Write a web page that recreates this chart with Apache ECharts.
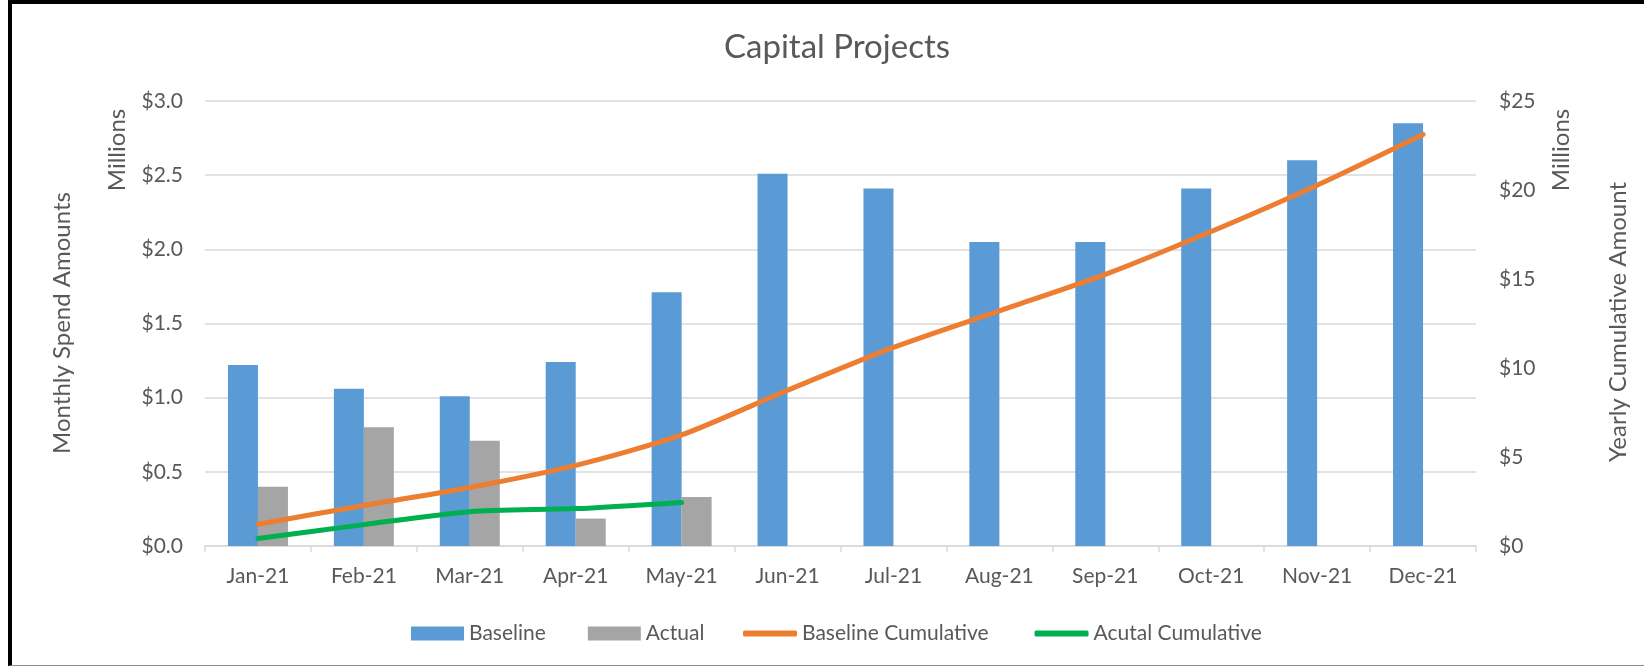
<!DOCTYPE html>
<html>
<head>
<meta charset="utf-8">
<title>Capital Projects</title>
<script src="https://cdn.jsdelivr.net/npm/echarts@6/dist/echarts.min.js"></script>
<style>
  html, body { margin: 0; padding: 0; background: #fff; }
  #wrap { position: relative; width: 1644px; height: 667px; }
  #chart { position: absolute; left: 0; top: 0; width: 1644px; height: 667px; }
  #frame {
    position: absolute; left: 8px; top: 0; width: 1636px; height: 666px;
    box-sizing: border-box;
    border-top: 4px solid #000; border-left: 4px solid #000; border-bottom: 1px solid #8c8c8c;
    pointer-events: none;
  }
</style>
</head>
<body>
<div id="wrap">
  <div id="chart"></div>
  <div id="frame"></div>
</div>
<script>
// months on the x axis
const months = ['Jan-21', 'Feb-21', 'Mar-21', 'Apr-21', 'May-21', 'Jun-21',
  'Jul-21', 'Aug-21', 'Sep-21', 'Oct-21', 'Nov-21', 'Dec-21']

// monthly spend, millions (left axis)
const baseline = [1.22, 1.06, 1.01, 1.24, 1.71, 2.51, 2.41, 2.05, 2.05, 2.41, 2.60, 2.85]
const actual = [0.40, 0.80, 0.71, 0.185, 0.33, null, null, null, null, null, null, null]

// yearly cumulative, millions (right axis)
const baselineCum = [1.22, 2.28, 3.29, 4.53, 6.24, 8.75, 11.16, 13.21, 15.26, 17.67, 20.27, 23.12]
const actualCum = [0.42, 1.20, 1.93, 2.10, 2.45, null, null, null, null, null, null, null]

const leftTicks = { min: 0, max: 3, interval: 0.5 }
const rightTicks = { min: 0, max: 25, interval: 5 }

const FONT = 'Lato, "Open Sans", sans-serif'
const TEXT = '#595959'
const GRID = '#d9d9d9'

const chart = echarts.init(document.getElementById('chart'))

const legendText = { fontSize: 21, color: TEXT, fontFamily: FONT }

chart.setOption({
  animation: false,
  textStyle: { fontFamily: FONT, color: TEXT },
  graphic: [
    { type: 'text', x: 837, y: 47,
      style: { text: 'Capital Projects', font: '33px ' + FONT, fill: TEXT, align: 'center', verticalAlign: 'middle' } },
    { type: 'text', x: 117, y: 150, rotation: Math.PI / 2,
      style: { text: 'Millions', font: '24px ' + FONT, fill: TEXT, align: 'center', verticalAlign: 'middle' } },
    { type: 'text', x: 62, y: 323, rotation: Math.PI / 2,
      style: { text: 'Monthly Spend Amounts', font: '24px ' + FONT, fill: TEXT, align: 'center', verticalAlign: 'middle' } },
    { type: 'text', x: 1561, y: 150, rotation: Math.PI / 2,
      style: { text: 'Millions', font: '24px ' + FONT, fill: TEXT, align: 'center', verticalAlign: 'middle' } },
    { type: 'text', x: 1618, y: 322, rotation: Math.PI / 2,
      style: { text: 'Yearly Cumulative Amount', font: '24px ' + FONT, fill: TEXT, align: 'center', verticalAlign: 'middle' } }
  ],
  legend: [{
    // bar entries
    left: 406,
    top: 618,
    itemWidth: 53,
    itemHeight: 14,
    itemGap: 42,
    icon: 'rect',
    textStyle: legendText,
    data: ['Baseline', 'Actual']
  }, {
    // line entries
    left: 738,
    top: 618,
    itemWidth: 54,
    itemHeight: 6,
    itemGap: 46,
    icon: 'roundRect',
    textStyle: legendText,
    data: ['Baseline Cumulative', 'Acutal Cumulative']
  }],
  grid: { left: 205, right: 168, top: 101, bottom: 121 },
  xAxis: {
    type: 'category',
    data: months,
    axisLine: { lineStyle: { color: GRID, width: 1.5 } },
    axisTick: { show: true, length: 6, lineStyle: { color: GRID, width: 1.5 } },
    axisLabel: { fontSize: 21, color: TEXT, margin: 20 }
  },
  yAxis: [{
    type: 'value',
    min: leftTicks.min,
    max: leftTicks.max,
    interval: leftTicks.interval,
    axisLine: { show: false },
    axisTick: { show: false },
    splitLine: { lineStyle: { color: GRID, width: 1.5 } },
    axisLabel: { fontSize: 21, color: TEXT, margin: 22, formatter: v => '$' + v.toFixed(1) }
  }, {
    type: 'value',
    min: rightTicks.min,
    max: rightTicks.max,
    interval: rightTicks.interval,
    axisLine: { show: false },
    axisTick: { show: false },
    splitLine: { show: false },
    axisLabel: { fontSize: 21, color: TEXT, margin: 23, formatter: v => '$' + v }
  }],
  series: [{
    name: 'Baseline',
    type: 'bar',
    barWidth: 30,
    barGap: '0%',
    itemStyle: { color: '#5b9bd5' },
    data: baseline
  }, {
    name: 'Actual',
    type: 'bar',
    barWidth: 30,
    barGap: '0%',
    itemStyle: { color: '#a5a5a5' },
    data: actual
  }, {
    name: 'Baseline Cumulative',
    type: 'line',
    yAxisIndex: 1,
    smooth: 0.25,
    symbol: 'none',
    itemStyle: { color: '#ed7d31' },
    lineStyle: { color: '#ed7d31', width: 5, cap: 'round' },
    data: baselineCum
  }, {
    name: 'Acutal Cumulative',
    type: 'line',
    yAxisIndex: 1,
    smooth: 0.25,
    symbol: 'none',
    itemStyle: { color: '#00b050' },
    lineStyle: { color: '#00b050', width: 5, cap: 'round' },
    data: actualCum
  }]
})
</script>
</body>
</html>
